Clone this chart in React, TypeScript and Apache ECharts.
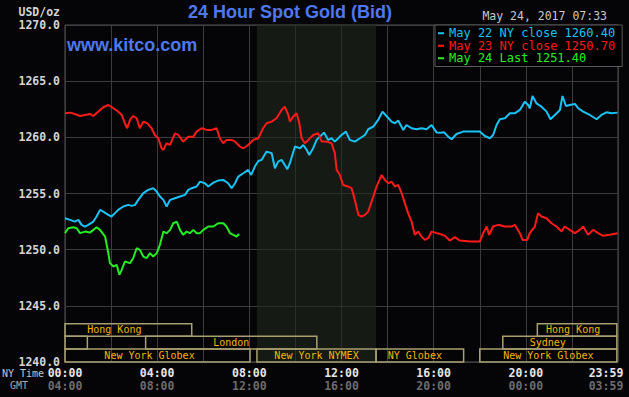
import React, { useEffect, useRef } from "react";
import * as echarts from "echarts";

// ---- data (hours of NY time, price in USD/oz) ----
const may22Name = "May 22 NY close 1260.40";
const may23Name = "May 23 NY close 1250.70";
const may24Name = "May 24 Last 1251.40";

const may22: [number, number][] = [
  [0, 1252.8], [0.22, 1252.65], [0.43, 1252.5], [0.58, 1252.65], [0.72, 1252.21], [0.87, 1252.06],
  [1.01, 1252.21], [1.23, 1252.5], [1.37, 1252.95], [1.52, 1253.54], [1.66, 1253.39], [1.88, 1253.1],
  [2.02, 1252.95], [2.17, 1253.25], [2.31, 1253.54], [2.53, 1253.84], [2.75, 1253.99], [2.89, 1253.9],
  [3.04, 1253.99], [3.18, 1254.43], [3.4, 1255.03], [3.61, 1255.32], [3.83, 1255.47], [3.98, 1255.17],
  [4.12, 1254.73], [4.27, 1254.43], [4.41, 1253.84], [4.56, 1254.43], [4.77, 1254.58], [4.99, 1254.73],
  [5.21, 1254.88], [5.35, 1255.32], [5.5, 1255.47], [5.71, 1255.62], [5.86, 1256.06], [6.07, 1255.91],
  [6.22, 1255.62], [6.44, 1255.97], [6.65, 1256.15], [6.87, 1256.21], [7.08, 1255.91], [7.23, 1255.47],
  [7.38, 1255.91], [7.52, 1256.51], [7.74, 1256.8], [7.95, 1257.1], [8.08, 1256.65], [8.24, 1257.4],
  [8.39, 1257.9], [8.53, 1257.99], [8.75, 1258.73], [8.97, 1258.59], [9.11, 1257.25], [9.25, 1257.84],
  [9.4, 1257.99], [9.54, 1257.54], [9.65, 1257.16], [9.76, 1257.7], [9.98, 1259.18], [10.2, 1259.03],
  [10.34, 1259.32], [10.49, 1258.88], [10.6, 1258.43], [10.77, 1259.03], [10.92, 1259.77], [11.06, 1260.06],
  [11.24, 1260.42], [11.42, 1259.77], [11.57, 1259.92], [11.71, 1259.62], [11.86, 1259.92], [12.0, 1260.21],
  [12.19, 1260.51], [12.36, 1259.77], [12.58, 1259.62], [12.8, 1259.92], [13.02, 1260.21], [13.16, 1260.72],
  [13.38, 1260.96], [13.59, 1261.55], [13.78, 1262.29], [13.95, 1261.9], [14.17, 1261.4], [14.32, 1261.25],
  [14.46, 1261.49], [14.68, 1260.66], [14.82, 1261.1], [15.04, 1260.81], [15.26, 1260.72], [15.47, 1260.81],
  [15.69, 1260.72], [15.91, 1261.1], [16.13, 1260.42], [16.3, 1260.4], [16.45, 1260.45], [16.63, 1260.06],
  [16.78, 1259.83], [16.99, 1260.3], [17.28, 1260.51], [17.57, 1260.51], [18.0, 1260.51], [18.22, 1260.12],
  [18.44, 1259.92], [18.58, 1260.21], [18.73, 1261.1], [18.87, 1261.61], [19.09, 1261.7], [19.31, 1262.14],
  [19.52, 1262.14], [19.74, 1262.44], [19.96, 1263.18], [20.1, 1262.88], [20.17, 1262.59], [20.29, 1263.68],
  [20.46, 1263.03], [20.68, 1262.73], [20.9, 1262.29], [21.07, 1261.61], [21.26, 1261.99], [21.48, 1262.44],
  [21.59, 1263.68], [21.74, 1262.79], [21.91, 1262.88], [22.13, 1262.97], [22.27, 1262.59], [22.49, 1262.29],
  [22.78, 1261.99], [23.07, 1261.61], [23.28, 1261.99], [23.5, 1262.23], [23.72, 1262.14], [23.98, 1262.2],
];

const may23: [number, number][] = [
  [0, 1262.14], [0.22, 1262.2], [0.43, 1262.08], [0.65, 1261.9], [0.87, 1261.99], [1.08, 1262.08],
  [1.23, 1261.9], [1.45, 1262.29], [1.66, 1262.68], [1.88, 1262.88], [2.1, 1262.59], [2.31, 1262.29],
  [2.46, 1261.99], [2.6, 1261.25], [2.7, 1260.81], [2.82, 1261.55], [2.96, 1261.9], [3.11, 1261.7],
  [3.25, 1260.81], [3.4, 1261.4], [3.57, 1261.25], [3.76, 1260.81], [3.9, 1260.21], [4.05, 1259.92],
  [4.19, 1259.03], [4.27, 1258.88], [4.41, 1259.47], [4.56, 1259.32], [4.77, 1260.36], [4.92, 1260.21],
  [5.13, 1259.62], [5.35, 1260.06], [5.57, 1260.06], [5.71, 1260.51], [5.93, 1260.81], [6.15, 1260.66],
  [6.36, 1260.66], [6.58, 1260.81], [6.72, 1259.92], [6.87, 1259.47], [7.01, 1259.77], [7.23, 1259.77],
  [7.38, 1259.62], [7.59, 1259.18], [7.74, 1259.03], [7.95, 1259.32], [8.17, 1259.77], [8.39, 1259.92],
  [8.6, 1260.81], [8.75, 1261.25], [8.97, 1261.4], [9.18, 1261.7], [9.4, 1262.44], [9.54, 1262.73],
  [9.69, 1261.99], [9.76, 1261.4], [9.9, 1261.84], [10.05, 1262.14], [10.17, 1261.25], [10.27, 1259.92],
  [10.41, 1259.47], [10.56, 1259.77], [10.77, 1260.21], [10.99, 1260.36], [11.14, 1259.62], [11.35, 1259.62],
  [11.57, 1259.47], [11.71, 1258.59], [11.79, 1257.1], [11.93, 1256.65], [12.07, 1255.76], [12.29, 1255.62],
  [12.44, 1255.47], [12.58, 1254.43], [12.73, 1253.1], [12.87, 1252.95], [13.02, 1253.1], [13.16, 1253.39],
  [13.38, 1254.73], [13.52, 1255.62], [13.74, 1256.65], [13.88, 1256.21], [14.03, 1255.91], [14.17, 1256.06],
  [14.32, 1255.62], [14.46, 1255.76], [14.61, 1255.03], [14.75, 1254.14], [14.89, 1253.25], [15.04, 1252.5],
  [15.18, 1251.32], [15.33, 1251.61], [15.47, 1251.17], [15.62, 1250.87], [15.76, 1251.02], [15.91, 1251.61],
  [16.13, 1251.47], [16.27, 1251.41], [16.49, 1251.23], [16.7, 1250.81], [16.92, 1251.11], [17.14, 1250.81],
  [17.57, 1250.72], [18.0, 1250.72], [18.15, 1251.47], [18.3, 1252.06], [18.41, 1251.32], [18.58, 1252.06],
  [18.8, 1252.21], [19.09, 1252.06], [19.38, 1252.06], [19.52, 1252.21], [19.74, 1251.47], [19.86, 1250.87],
  [20.06, 1250.87], [20.17, 1251.47], [20.39, 1252.06], [20.53, 1253.25], [20.68, 1252.95], [20.9, 1252.8],
  [21.11, 1252.35], [21.33, 1252.06], [21.55, 1251.61], [21.69, 1252.06], [21.91, 1251.76], [22.13, 1251.47],
  [22.34, 1251.76], [22.49, 1252.06], [22.7, 1251.32], [22.92, 1251.76], [23.14, 1251.47], [23.36, 1251.23],
  [23.64, 1251.32], [23.98, 1251.47],
];

const may24: [number, number][] = [
  [0, 1251.47], [0.14, 1251.91], [0.36, 1252.0], [0.51, 1251.91], [0.65, 1251.47], [0.87, 1251.61],
  [1.08, 1251.52], [1.23, 1251.76], [1.37, 1252.0], [1.52, 1251.76], [1.74, 1251.17], [1.88, 1249.69],
  [1.95, 1248.8], [2.1, 1248.5], [2.24, 1248.65], [2.36, 1247.76], [2.46, 1248.2], [2.6, 1248.94],
  [2.82, 1248.8], [2.96, 1249.24], [3.11, 1250.13], [3.25, 1249.98], [3.4, 1249.39], [3.54, 1249.24],
  [3.69, 1249.69], [3.83, 1249.39], [3.98, 1249.69], [4.12, 1250.43], [4.27, 1251.61], [4.41, 1251.47],
  [4.56, 1251.76], [4.7, 1252.35], [4.85, 1252.5], [4.99, 1251.76], [5.13, 1251.32], [5.28, 1251.61],
  [5.42, 1251.47], [5.57, 1251.76], [5.71, 1251.47], [5.86, 1251.47], [6.0, 1251.76], [6.22, 1252.06],
  [6.44, 1252.06], [6.65, 1252.35], [6.87, 1252.35], [7.01, 1252.06], [7.16, 1251.47], [7.3, 1251.32],
  [7.45, 1251.17], [7.56, 1251.4],
];

// x-axis tick labels (NY time and GMT)
const xTickHours = [0, 4, 8, 12, 16, 20, 24];
const nyTimeLabels = ["00:00", "04:00", "08:00", "12:00", "16:00", "20:00", "23:59"];
const gmtLabels = ["04:00", "08:00", "12:00", "16:00", "20:00", "00:00", "03:59"];

// market sessions (hours of NY time) and their row (0 = top)
const sessionNames = ["Hong Kong", "Hong Kong", "", "London", "Sydney", "New York Globex", "New York NYMEX", "NY Globex", "New York Globex"];
const sessionStart = [0, 20.5, 0, 3.5, 19, 0, 8.33, 13.5, 18];
const sessionEnd = [5.5, 23.95, 0.97, 10.93, 23.95, 8.03, 13.5, 17.3, 23.95];
const sessionRow = [0, 0, 1, 1, 1, 2, 2, 2, 2];
const sessionLabelShift = [-14, -4, 0, 0, -12, -8, 0, -5, 0];

// NYMEX trading hours shading
const nymexHours = [8.33, 13.5];

const MONO = "'DejaVu Sans Mono', 'Liberation Mono', monospace";
const SANS = "'Liberation Sans', Arial, sans-serif";

export default function App() {
  const ref = useRef<HTMLDivElement>(null);

  useEffect(() => {
    if (!ref.current) return;
    const chart = echarts.init(ref.current, undefined, { renderer: "svg" });

    const rowEdges = [1243.4, 1242.3, 1241.15, 1240.0];
    const sessionAreas = sessionNames.map((name, i) => [
      {
        name,
        coord: [sessionStart[i], rowEdges[sessionRow[i]]],
        itemStyle: {
          color: "rgba(0,0,0,0)",
          borderColor: "#a8a070",
          borderWidth: 1.5,
        },
        label: { offset: [sessionLabelShift[i], 0] },
      },
      { coord: [sessionEnd[i], rowEdges[sessionRow[i] + 1]] },
    ]);

    const last = xTickHours.length - 1;

    chart.setOption({
      animation: false,
      backgroundColor: "#050507",
      title: [
        {
          text: "24 Hour Spot Gold (Bid)",
          left: 188,
          top: 3,
          padding: 0,
          textStyle: { color: "#4f78f0", fontFamily: SANS, fontSize: 18, fontWeight: "bold" },
        },
        {
          text: "www.kitco.com",
          left: 67,
          top: 36,
          padding: 0,
          textStyle: { color: "#4f78f0", fontFamily: SANS, fontSize: 18, fontWeight: "bold" },
        },
        {
          text: "May 24, 2017 07:33",
          right: 22,
          top: 10,
          padding: 0,
          textStyle: { color: "#c8c8c8", fontFamily: MONO, fontSize: 11.5, fontWeight: "normal" },
        },
      ],
      legend: {
        orient: "vertical",
        left: 435,
        top: 25,
        width: 183,
        padding: [2, 7, 2, 3],
        itemGap: 0,
        itemWidth: 6,
        itemHeight: 2,
        icon: "rect",
        backgroundColor: "#000000",
        borderColor: "#5a5a5a",
        borderWidth: 1,
        selectedMode: false,
        textStyle: { fontFamily: MONO, fontSize: 12, lineHeight: 12.5, padding: [0, 0, 0, 0] },
        data: [
          { name: may22Name, textStyle: { color: "#19c3f5" } },
          { name: may23Name, textStyle: { color: "#ff1a1a" } },
          { name: may24Name, textStyle: { color: "#22ee22" } },
        ],
      },
      grid: {
        left: 65,
        right: 11,
        top: 25,
        bottom: 35,
        show: true,
        borderColor: "#545454",
        borderWidth: 1,
        outerBoundsMode: "none",
        containLabel: false,
      },
      xAxis: {
        type: "value",
        min: 0,
        max: 24,
        interval: 2,
        axisLine: { show: false },
        axisTick: { show: false },
        splitLine: { show: true, lineStyle: { color: "#3c3c3c", width: 1 } },
        axisLabel: {
          margin: 4,
          showMaxLabel: true,
          formatter: (v: number) => {
            const i = xTickHours.indexOf(v);
            if (i < 0) return "";
            const s = i === last ? "e" : "";
            return `{a${s}|${nyTimeLabels[i]}}\n{b${s}|${gmtLabels[i]}}`;
          },
          rich: {
            a: { color: "#e6e6e6", fontFamily: MONO, fontSize: 11.5, fontWeight: "bold", lineHeight: 13.5 },
            b: { color: "#6c6c6c", fontFamily: MONO, fontSize: 11.5, fontWeight: "bold", lineHeight: 13.5 },
            ae: { color: "#e6e6e6", fontFamily: MONO, fontSize: 11.5, fontWeight: "bold", lineHeight: 13.5, padding: [0, 24, 0, 0] },
            be: { color: "#6c6c6c", fontFamily: MONO, fontSize: 11.5, fontWeight: "bold", lineHeight: 13.5, padding: [0, 24, 0, 0] },
          },
        },
      },
      yAxis: {
        type: "value",
        min: 1240,
        max: 1270,
        interval: 5,
        name: "USD/oz",
        nameLocation: "end",
        nameGap: 13,
        nameTextStyle: {
          color: "#d4d4d4",
          fontFamily: MONO,
          fontSize: 11.5,
          fontWeight: "bold",
          align: "right",
          verticalAlign: "middle",
          padding: [0, 5, 0, 0],
        },
        axisLine: { show: false },
        axisTick: { show: false },
        splitLine: { show: true, lineStyle: { color: "#3c3c3c", width: 1 } },
        axisLabel: {
          margin: 5,
          color: "#d4d4d4",
          fontFamily: MONO,
          fontSize: 11.5,
          fontWeight: "bold",
          formatter: (v: number) => v.toFixed(1),
        },
      },
      graphic: [
        {
          type: "text",
          left: 2,
          top: 368,
          style: { text: "NY Time", fill: "#c4c4c4", font: `10px ${MONO}` },
        },
        {
          type: "text",
          left: 10,
          top: 380,
          style: { text: "GMT", fill: "#a8a8a8", font: `10px ${MONO}` },
        },
      ],
      series: [
        {
          name: "sessions",
          type: "line",
          data: [],
          silent: true,
          markArea: {
            silent: true,
            label: {
              show: true,
              position: "inside",
              color: "#f2b600",
              fontFamily: MONO,
              fontSize: 10,
            },
            data: [
              [
                {
                  coord: [nymexHours[0], 1240],
                  itemStyle: { color: "rgba(32,40,32,0.6)", borderWidth: 0 },
                  label: { show: false },
                },
                { coord: [nymexHours[1], 1270] },
              ],
              ...sessionAreas,
            ],
          },
        },
        {
          name: may22Name,
          type: "line",
          data: may22,
          showSymbol: false,
          lineStyle: { color: "#19c3f5", width: 2 },
          itemStyle: { color: "#19c3f5" },
        },
        {
          name: may23Name,
          type: "line",
          data: may23,
          showSymbol: false,
          lineStyle: { color: "#ff1a1a", width: 2 },
          itemStyle: { color: "#ff1a1a" },
        },
        {
          name: may24Name,
          type: "line",
          data: may24,
          showSymbol: false,
          lineStyle: { color: "#22ee22", width: 2 },
          itemStyle: { color: "#22ee22" },
        },
      ],
    });

    return () => chart.dispose();
  }, []);

  return (
    <div
      ref={ref}
      style={{ position: "absolute", left: 0, top: 0, width: 629, height: 397 }}
    />
  );
}
